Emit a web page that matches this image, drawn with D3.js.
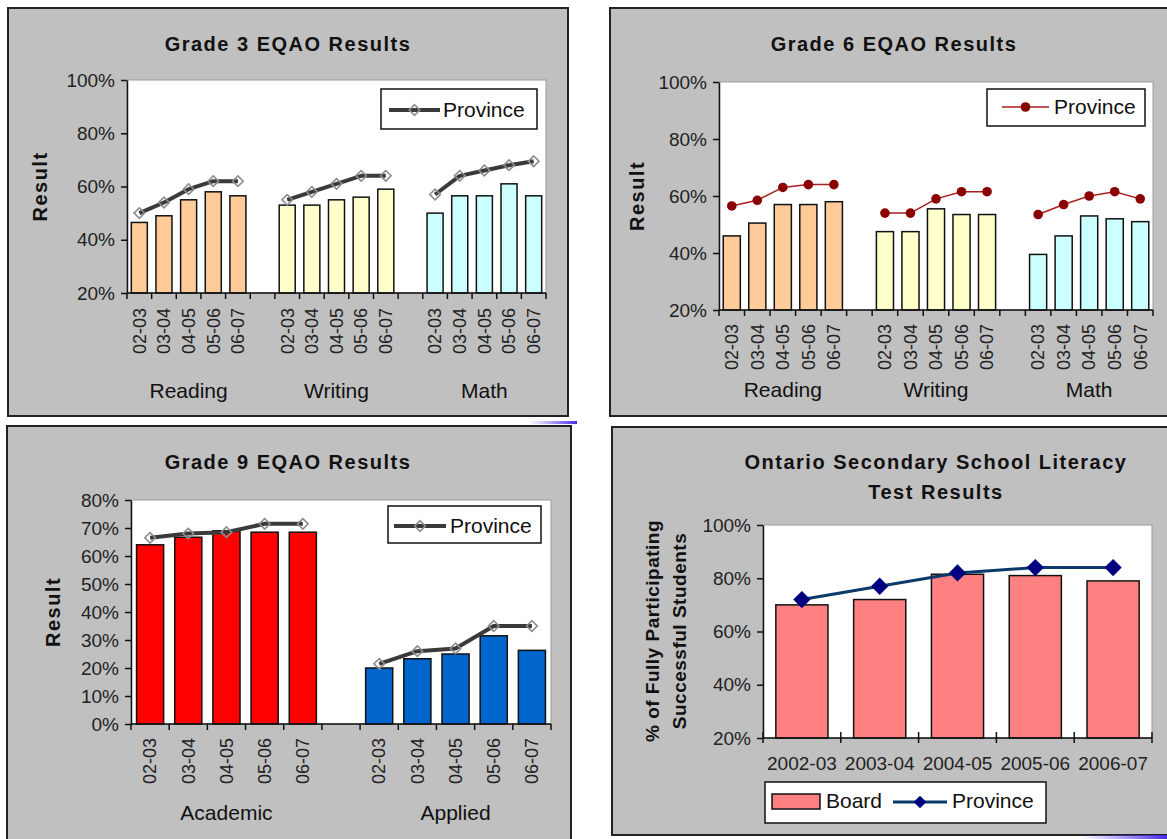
<!DOCTYPE html>
<html>
<head>
<meta charset="utf-8">
<script src="https://cdn.jsdelivr.net/npm/d3@7"></script>
<style>
    body { margin: 0; background: #fff; }
    svg { display: block; font-family: "Liberation Sans", Arial, sans-serif; }
</style>
</head>
<body>
<svg id="chart" width="1167" height="839"></svg>
<script>
var years = ["02-03", "03-04", "04-05", "05-06", "06-07"];

// grade 3
var g3Groups = ["Reading", "Writing", "Math"];
var g3Reading = [46.5, 49, 55, 58, 56.5];
var g3Writing = [53, 53, 55, 56, 59];
var g3Math = [50, 56.5, 56.5, 61, 56.5];
var g3ProvReading = [50, 54, 59, 62, 62];
var g3ProvWriting = [55, 58, 61, 64, 64];
var g3ProvMath = [57, 64, 66, 68, 69.5];

// grade 6
var g6Groups = ["Reading", "Writing", "Math"];
var g6Reading = [46, 50.5, 57, 57, 58];
var g6Writing = [47.5, 47.5, 55.5, 53.5, 53.5];
var g6Math = [39.5, 46, 53, 52, 51];
var g6ProvReading = [56.5, 58.5, 63, 64, 64];
var g6ProvWriting = [54, 54, 59, 61.5, 61.5];
var g6ProvMath = [53.5, 57, 60, 61.5, 59];

// grade 9
var g9Groups = ["Academic", "Applied"];
var g9Academic = [64, 66.7, 69, 68.5, 68.5];
var g9Applied = [20, 23.3, 25, 31.5, 26.3];
var g9ProvAcademic = [66.5, 68, 68.5, 71.5, 71.5];
var g9ProvApplied = [21.5, 26, 27, 35, 35];

// OSSLT
var osYears = ["2002-03", "2003-04", "2004-05", "2005-06", "2006-07"];
var osBoard = [70, 72, 81.5, 81, 79];
var osProv = [72, 77, 82, 84, 84];

var svg = d3.select("#chart");

var defs = svg.append("defs");
var grad = defs.append("linearGradient").attr("id", "smudge");
grad.append("stop").attr("offset", "0%").attr("stop-color", "#6a4cf0").attr("stop-opacity", 0);
grad.append("stop").attr("offset", "100%").attr("stop-color", "#4a28e6").attr("stop-opacity", 1);

function frame(box) {
    svg.append("rect")
        .attr("x", box[0])
        .attr("y", box[1])
        .attr("width", box[2])
        .attr("height", box[3])
        .attr("fill", "#c0c0c0")
        .attr("stroke", "#222")
        .attr("stroke-width", 2);
}

function title(lines, cx, y0) {
    lines.forEach(function(t, i) {
        svg.append("text")
            .attr("x", cx)
            .attr("y", y0 + i * 30)
            .attr("text-anchor", "middle")
            .style("font-size", "20px")
            .style("font-weight", "bold")
            .style("letter-spacing", "1.5px")
            .style("fill", "#111")
            .text(t);
    });
}

function yTitle(lines, cx, cy, size, spacing) {
    lines.forEach(function(t, i) {
        svg.append("text")
            .attr("transform", "translate(" + (cx + i * 27) + "," + cy + ") rotate(-90)")
            .attr("text-anchor", "middle")
            .attr("dy", "0.35em")
            .style("font-size", size + "px")
            .style("font-weight", "bold")
            .style("letter-spacing", spacing + "px")
            .style("fill", "#111")
            .text(t);
    });
}

function marker(g, kind, cx, cy) {
    if (kind == "circle") {
        g.append("circle")
            .attr("cx", cx).attr("cy", cy).attr("r", 4.8)
            .attr("fill", "#8b0000");
    } else if (kind == "hollow") {
        g.append("path")
            .attr("d", d3.symbol(d3.symbolSquare, 56)())
            .attr("transform", "translate(" + cx + "," + cy + ") rotate(45)")
            .attr("fill", "none")
            .attr("stroke", "#8c8c8c")
            .attr("stroke-width", 1.6);
    } else {
        g.append("path")
            .attr("d", d3.symbol(d3.symbolSquare, 150)())
            .attr("transform", "translate(" + cx + "," + cy + ") rotate(45)")
            .attr("fill", "#000080");
    }
}

var lineStyles = {
    hollow: { color: "#3a3a3a", width: 4 },
    circle: { color: "#a82020", width: 1.5 },
    navy: { color: "#0b3a6a", width: 3 }
};

function legend(l, kind) {
    var g = svg.append("g");
    g.append("rect")
        .attr("x", l.box[0]).attr("y", l.box[1])
        .attr("width", l.box[2]).attr("height", l.box[3])
        .attr("fill", "#fff").attr("stroke", "#111").attr("stroke-width", 1.5);
    var st = lineStyles[kind];
    g.append("line")
        .attr("x1", l.line[0]).attr("x2", l.line[1])
        .attr("y1", l.cy).attr("y2", l.cy)
        .attr("stroke", st.color).attr("stroke-width", st.width);
    marker(g, kind, (l.line[0] + l.line[1]) / 2, l.cy);
    g.append("text")
        .attr("x", l.tx).attr("y", l.cy)
        .attr("dy", "0.35em")
        .style("font-size", "21px")
        .style("fill", "#111")
        .text("Province");
}

function groupedPanel(cfg) {
    frame(cfg.box);
    title(cfg.title, cfg.titleX, cfg.titleY);
    yTitle(["Result"], cfg.yTitleX, (cfg.plot.y0 + cfg.plot.y1) / 2, 20, 1.5);

    var slots = [];
    cfg.groups.forEach(function(name, gi) {
        years.forEach(function(yr) { slots.push(name + "|" + yr); });
        if (gi < cfg.groups.length - 1) slots.push("gap" + gi);
    });

    var x = d3.scaleBand()
        .domain(slots)
        .range([cfg.plot.x0, cfg.plot.x1])
        .paddingInner(cfg.pad)
        .paddingOuter(cfg.pad / 2);
    var y = d3.scaleLinear()
        .domain(cfg.yDomain)
        .range([cfg.plot.y1, cfg.plot.y0]);

    var g = svg.append("g");
    g.append("rect")
        .attr("x", cfg.plot.x0).attr("y", cfg.plot.y0)
        .attr("width", cfg.plot.x1 - cfg.plot.x0)
        .attr("height", cfg.plot.y1 - cfg.plot.y0)
        .attr("fill", "#fff").attr("stroke", "#9a9a9a").attr("stroke-width", 1);

    var bars = [];
    cfg.groups.forEach(function(name, gi) {
        cfg.board[gi].forEach(function(v, i) {
            bars.push({ key: name + "|" + years[i], value: v, color: cfg.colors[gi] });
        });
    });

    g.selectAll(".bar")
        .data(bars)
        .enter().append("rect")
        .attr("class", "bar")
        .attr("x", function(d) { return x(d.key); })
        .attr("width", x.bandwidth())
        .attr("y", function(d) { return y(d.value); })
        .attr("height", function(d) { return cfg.plot.y1 - y(d.value); })
        .attr("fill", function(d) { return d.color; })
        .attr("stroke", "#111")
        .attr("stroke-width", 1.5);

    var st = lineStyles[cfg.marker];
    var line = d3.line()
        .x(function(d) { return x(d.key) + x.bandwidth() / 2; })
        .y(function(d) { return y(d.value); });

    cfg.groups.forEach(function(name, gi) {
        var pts = cfg.prov[gi].map(function(v, i) {
            return { key: name + "|" + years[i], value: v };
        });
        g.append("path")
            .attr("d", line(pts))
            .attr("fill", "none")
            .attr("stroke", st.color)
            .attr("stroke-width", st.width)
            .attr("stroke-linejoin", "round");
        pts.forEach(function(p) {
            marker(g, cfg.marker, x(p.key) + x.bandwidth() / 2, y(p.value));
        });
    });

    // y axis
    var ya = g.append("g")
        .attr("transform", "translate(" + cfg.plot.x0 + ",0)")
        .call(d3.axisLeft(y)
            .tickValues(cfg.yTicks)
            .tickSize(6)
            .tickSizeOuter(0)
            .tickPadding(6)
            .tickFormat(function(d) { return d + "%"; }));
    ya.selectAll("path, line").attr("stroke", "#111").attr("stroke-width", 1.5);
    ya.selectAll("text").style("font-size", "19px").style("fill", "#222")
        .style("font-family", "Liberation Sans, Arial, sans-serif");

    // x axis with ticks between slots
    g.append("line")
        .attr("x1", cfg.plot.x0).attr("x2", cfg.plot.x1)
        .attr("y1", cfg.plot.y1).attr("y2", cfg.plot.y1)
        .attr("stroke", "#111").attr("stroke-width", 1.5);
    g.selectAll(".xtick")
        .data(d3.range(slots.length + 1))
        .enter().append("line")
        .attr("x1", function(i) { return cfg.plot.x0 + i * x.step(); })
        .attr("x2", function(i) { return cfg.plot.x0 + i * x.step(); })
        .attr("y1", cfg.plot.y1)
        .attr("y2", cfg.plot.y1 + 6)
        .attr("stroke", "#111").attr("stroke-width", 1.5);

    g.selectAll(".xlab")
        .data(slots.filter(function(s) { return s.indexOf("|") > 0; }))
        .enter().append("text")
        .attr("transform", function(s) {
            return "translate(" + (x(s) + x.bandwidth() / 2) + "," + (cfg.plot.y1 + cfg.labGap) + ") rotate(-90)";
        })
        .attr("text-anchor", "end")
        .attr("dy", "0.35em")
        .style("font-size", "18px")
        .style("fill", "#222")
        .text(function(s) { return s.split("|")[1]; });

    cfg.groups.forEach(function(name) {
        var a = x(name + "|" + years[0]), b = x(name + "|" + years[4]) + x.bandwidth();
        g.append("text")
            .attr("x", (a + b) / 2)
            .attr("y", cfg.groupY)
            .attr("text-anchor", "middle")
            .style("font-size", "21px")
            .style("fill", "#111")
            .text(name);
    });

    legend(cfg.legend, cfg.marker);
}

groupedPanel({
    box: [8, 8, 560, 408],
    title: ["Grade 3 EQAO Results"], titleX: 288, titleY: 51,
    yTitleX: 40,
    plot: { x0: 127, x1: 546, y0: 80, y1: 293 },
    groups: g3Groups,
    board: [g3Reading, g3Writing, g3Math],
    prov: [g3ProvReading, g3ProvWriting, g3ProvMath],
    colors: ["#ffcc99", "#ffffcc", "#ccffff"],
    pad: 0.35,
    yDomain: [20, 100], yTicks: [20, 40, 60, 80, 100],
    marker: "hollow",
    labGap: 15, groupY: 398,
    legend: { box: [381, 89, 156, 40], line: [389, 440], cy: 110, tx: 443 }
});

groupedPanel({
    box: [610, 8, 570, 408],
    title: ["Grade 6 EQAO Results"], titleX: 894, titleY: 51,
    yTitleX: 637,
    plot: { x0: 719, x1: 1153, y0: 82, y1: 310 },
    groups: g6Groups,
    board: [g6Reading, g6Writing, g6Math],
    prov: [g6ProvReading, g6ProvWriting, g6ProvMath],
    colors: ["#ffcc99", "#ffffcc", "#ccffff"],
    pad: 0.33,
    yDomain: [20, 100], yTicks: [20, 40, 60, 80, 100],
    marker: "circle",
    labGap: 14, groupY: 397,
    legend: { box: [987, 89, 158, 37], line: [1002, 1049], cy: 107, tx: 1054 }
});

groupedPanel({
    box: [7, 426, 564, 430],
    title: ["Grade 9 EQAO Results"], titleX: 288, titleY: 469,
    yTitleX: 53,
    plot: { x0: 131, x1: 551, y0: 500, y1: 724 },
    groups: g9Groups,
    board: [g9Academic, g9Applied],
    prov: [g9ProvAcademic, g9ProvApplied],
    colors: ["#ff0000", "#0066cc"],
    pad: 0.29,
    yDomain: [0, 80], yTicks: [0, 10, 20, 30, 40, 50, 60, 70, 80],
    marker: "hollow",
    labGap: 14, groupY: 820,
    legend: { box: [388, 506, 153, 37], line: [394, 446], cy: 526, tx: 450 }
});

// OSSLT panel
(function() {
    var plot = { x0: 763, x1: 1152, y0: 525, y1: 738 };
    frame([612, 427, 570, 408]);
    title(["Ontario Secondary School Literacy", "Test Results"], 936, 469);
    yTitle(["% of Fully Participating", "Successful Students"], 652, 631, 19, 0.5);

    var x = d3.scaleBand()
        .domain(osYears)
        .range([plot.x0, plot.x1])
        .paddingInner(0.33)
        .paddingOuter(0.165);
    var y = d3.scaleLinear()
        .domain([20, 100])
        .range([plot.y1, plot.y0]);

    var g = svg.append("g");
    g.append("rect")
        .attr("x", plot.x0).attr("y", plot.y0)
        .attr("width", plot.x1 - plot.x0).attr("height", plot.y1 - plot.y0)
        .attr("fill", "#fff").attr("stroke", "#9a9a9a").attr("stroke-width", 1);

    g.selectAll(".bar")
        .data(osBoard)
        .enter().append("rect")
        .attr("x", function(d, i) { return x(osYears[i]); })
        .attr("width", x.bandwidth())
        .attr("y", function(d) { return y(d); })
        .attr("height", function(d) { return plot.y1 - y(d); })
        .attr("fill", "#ff8080")
        .attr("stroke", "#111")
        .attr("stroke-width", 1.5);

    var line = d3.line()
        .x(function(d, i) { return x(osYears[i]) + x.bandwidth() / 2; })
        .y(function(d) { return y(d); });
    g.append("path")
        .attr("d", line(osProv))
        .attr("fill", "none")
        .attr("stroke", lineStyles.navy.color)
        .attr("stroke-width", lineStyles.navy.width);
    osProv.forEach(function(v, i) {
        marker(g, "navy", x(osYears[i]) + x.bandwidth() / 2, y(v));
    });

    var ya = g.append("g")
        .attr("transform", "translate(" + plot.x0 + ",0)")
        .call(d3.axisLeft(y)
            .tickValues([20, 40, 60, 80, 100])
            .tickSize(6)
            .tickSizeOuter(0)
            .tickPadding(6)
            .tickFormat(function(d) { return d + "%"; }));
    ya.selectAll("path, line").attr("stroke", "#111").attr("stroke-width", 1.5);
    ya.selectAll("text").style("font-size", "19px").style("fill", "#222")
        .style("font-family", "Liberation Sans, Arial, sans-serif");

    g.append("line")
        .attr("x1", plot.x0).attr("x2", plot.x1)
        .attr("y1", plot.y1).attr("y2", plot.y1)
        .attr("stroke", "#111").attr("stroke-width", 1.5);
    g.selectAll(".xtick")
        .data(d3.range(osYears.length + 1))
        .enter().append("line")
        .attr("x1", function(i) { return plot.x0 + i * x.step(); })
        .attr("x2", function(i) { return plot.x0 + i * x.step(); })
        .attr("y1", plot.y1 - 6)
        .attr("y2", plot.y1 + 5)
        .attr("stroke", "#111").attr("stroke-width", 1.5);
    g.selectAll(".xlab")
        .data(osYears)
        .enter().append("text")
        .attr("x", function(d) { return x(d) + x.bandwidth() / 2; })
        .attr("y", 770)
        .attr("text-anchor", "middle")
        .style("font-size", "19px")
        .style("fill", "#222")
        .text(function(d) { return d; });

    // legend
    var lg = svg.append("g");
    lg.append("rect")
        .attr("x", 765).attr("y", 782).attr("width", 281).attr("height", 41)
        .attr("fill", "#fff").attr("stroke", "#111").attr("stroke-width", 1.5);
    lg.append("rect")
        .attr("x", 772).attr("y", 794).attr("width", 48).attr("height", 15)
        .attr("fill", "#ff8080").attr("stroke", "#111").attr("stroke-width", 1.5);
    lg.append("text")
        .attr("x", 826).attr("y", 801).attr("dy", "0.35em")
        .style("font-size", "21px").style("fill", "#111")
        .text("Board");
    lg.append("line")
        .attr("x1", 893).attr("x2", 947).attr("y1", 802).attr("y2", 802)
        .attr("stroke", lineStyles.navy.color).attr("stroke-width", lineStyles.navy.width);
    lg.append("path")
        .attr("d", d3.symbol(d3.symbolSquare, 80)())
        .attr("transform", "translate(920,802) rotate(45)")
        .attr("fill", "#000080");
    lg.append("text")
        .attr("x", 952).attr("y", 801).attr("dy", "0.35em")
        .style("font-size", "21px").style("fill", "#111")
        .text("Province");
})();

// scanner smudges
svg.append("rect").attr("x", 528).attr("y", 421).attr("width", 49).attr("height", 3).attr("fill", "url(#smudge)");
svg.append("rect").attr("x", 1080).attr("y", 835).attr("width", 87).attr("height", 4).attr("fill", "url(#smudge)");
</script>
</body>
</html>
